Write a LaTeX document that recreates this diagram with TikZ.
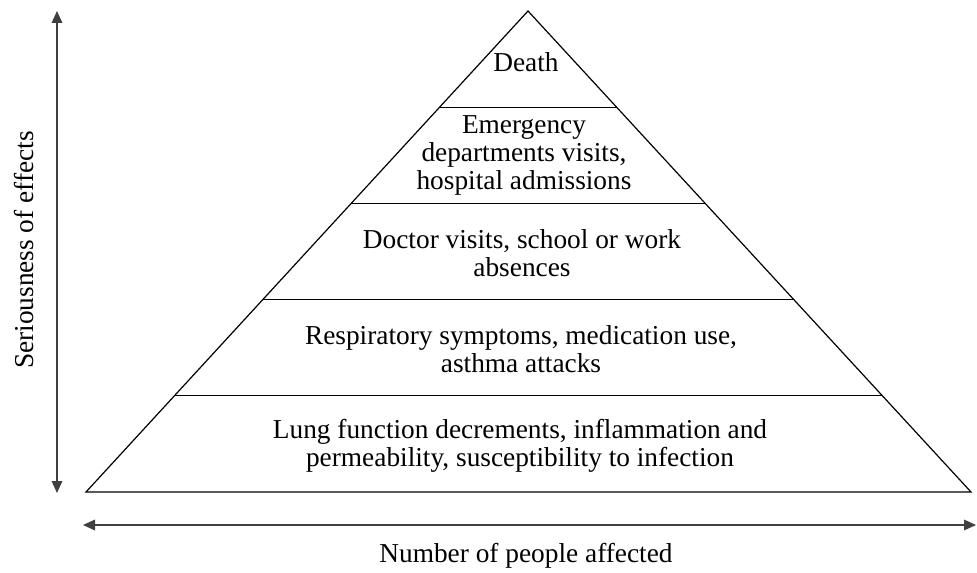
\documentclass[tikz,border=0pt]{standalone}
\usepackage{fontspec}
\setmainfont{Liberation Serif}
\usetikzlibrary{arrows.meta,calc}

\tikzset{
  tier/.style={align=center, inner sep=0pt},
  axis/.style={draw=black!75, line width=0.9pt,
    {Triangle[length=9pt,width=8pt]}-{Triangle[length=9pt,width=8pt]}},
}

\begin{document}
\begin{tikzpicture}[x=0.75pt, y=-0.75pt, font=\fontsize{20.5}{21}\selectfont]
    \useasboundingbox (0,0) rectangle (977,573);
    % pyramid
    \begin{scope}[line width=0.9pt]
      \coordinate (apex) at (528,11);
      \coordinate (bl) at (86,492);
      \coordinate (br) at (971,492);
      \draw (bl) -- (apex) -- (br) -- cycle;
      \foreach \k in {1,2,3,4}
        \draw ($(apex)!\k/5!(bl)$) -- ($(apex)!\k/5!(br)$);
    \end{scope}
    % tier labels
    \node[tier] (death) at (526,62) {Death};
    \node[tier] (emerg) at (524,155) {Emergency\\departments visits,\\hospital admissions};
    \node[tier] (doctor) at (522,253) {Doctor visits, school or work\\absences};
    \node[tier] (resp) at (521,349) {Respiratory symptoms, medication use,\\asthma attacks};
    \node[tier] (lung) at (520,446) {Lung function decrements, inflammation and\\permeability, susceptibility to infection};
    % axes
    \coordinate (ytop) at (57,11);
    \coordinate (ybot) at (57,493);
    \draw[axis] (ybot) -- (ytop);
    \node[rotate=90] (ylabel) at (24,250) {Seriousness of effects};
    \coordinate (xleft) at (83,525);
    \coordinate (xright) at (976,525);
    \draw[axis] (xleft) -- (xright);
    \node (xlabel) at (526,556) {Number of people affected};
\end{tikzpicture}
\end{document}
